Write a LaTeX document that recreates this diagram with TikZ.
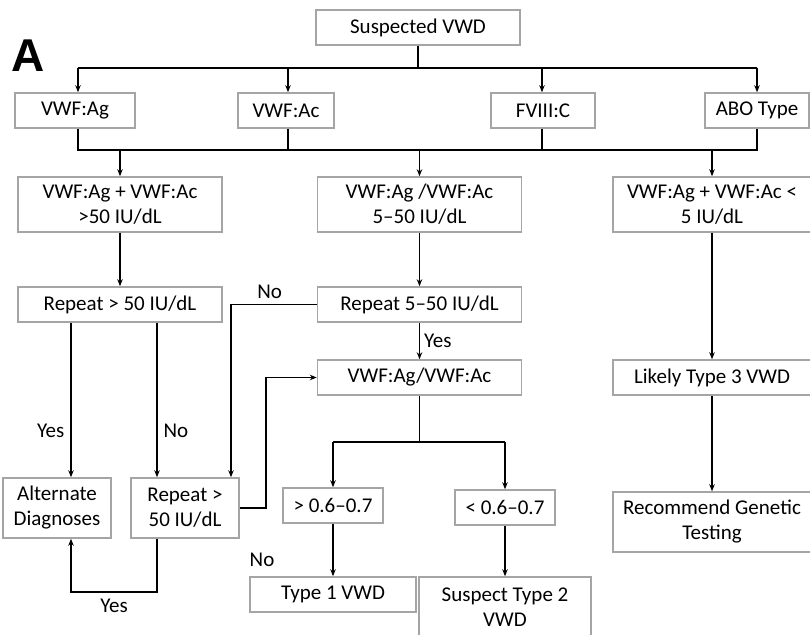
\documentclass[tikz,border=0pt]{standalone}
\usepackage{fontspec}
\setmainfont{Carlito}
\newfontfamily\arialbold{Liberation Sans}
\usetikzlibrary{arrows.meta}
\definecolor{boxgray}{RGB}{165,165,165}
\begin{document}
\begin{tikzpicture}[x=1pt,y=-1pt,
  box/.style={draw=boxgray,line width=1.5pt,fill=white,inner sep=0pt,align=center,
    font=\fontsize{21}{25}\selectfont},
  conn/.style={line width=1.2pt,black},
  arr/.style={conn,-{Stealth[length=7pt,width=5.5pt]}},
  lbl/.style={font=\fontsize{21}{25}\selectfont,inner sep=0pt}]
\useasboundingbox (0,0) rectangle (810,634);
\node[font=\fontsize{46}{46}\arialbold\bfseries\selectfont,inner sep=0pt] (A) at (28,55.5) {A};

\node[box,minimum width=204pt,minimum height=35pt] (sus) at (418,27.5) {Suspected VWD};
\node[box,minimum width=120pt,minimum height=35pt] (ag) at (75,110.5) {VWF:Ag};
\node[box,minimum width=96pt,minimum height=35pt] (ac) at (286,110.5) {VWF:Ac};
\node[box,minimum width=104pt,minimum height=35pt] (fv) at (543,110.5) {FVIII:C};
\node[box,minimum width=104pt,minimum height=35pt] (abo) at (757,110.5) {ABO Type};

\node[box,minimum width=204pt,minimum height=55pt] (r3a) at (120,204.5) {VWF:Ag + VWF:Ac\\>50 IU/dL};
\node[box,minimum width=204pt,minimum height=55pt] (r3b) at (419.5,204.5) {VWF:Ag /VWF:Ac\\5–50 IU/dL};
\node[box,minimum width=198pt,minimum height=55pt] (r3c) at (712,204.5) {VWF:Ag + VWF:Ac <\\5 IU/dL};

\node[box,minimum width=204pt,minimum height=35pt] (rep50) at (120,304.5) {Repeat > 50 IU/dL};
\node[box,minimum width=204pt,minimum height=35pt] (rep5) at (419.5,304.5) {Repeat 5–50 IU/dL};
\node[box,minimum width=204pt,minimum height=35pt] (ratio) at (419.5,377.5) {VWF:Ag/VWF:Ac};
\node[box,minimum width=198pt,minimum height=35pt] (t3) at (712,377.5) {Likely Type 3 VWD};
\node[box,minimum width=198pt,minimum height=60pt] (gen) at (712,522) {Recommend Genetic\\Testing};

\node[box,minimum width=108pt,minimum height=60pt] (alt) at (57,508) {Alternate\\Diagnoses};
\node[box,minimum width=108pt,minimum height=60pt] (rep2) at (185,508) {Repeat >\\50 IU/dL};
\node[box,minimum width=100pt,minimum height=35pt] (gt) at (333,505.5) {> 0.6–0.7};
\node[box,minimum width=100pt,minimum height=35pt] (lt) at (505,507.5) {< 0.6–0.7};
\node[box,minimum width=166pt,minimum height=35pt] (t1) at (333,594.5) {Type 1 VWD};
\node[box,minimum width=172pt,minimum height=60pt] (t2) at (505,607) {Suspect Type 2\\VWD};

% first bus
\coordinate (busA) at (418,68);
\draw[conn] (sus.south) -- (busA);
\draw[conn] ([xshift=3pt]ag.north |- busA) -- (abo.north |- busA);
\foreach \n/\s in {ag/3pt,ac/2pt,fv/-1pt,abo/0pt} \draw[arr] ([xshift=\s]\n.north |- busA) -- ([xshift=\s]\n.north);
% second bus
\coordinate (busB) at (419,150);
\draw[conn] ([xshift=3pt]ag.south) -- ([xshift=3pt]ag.south |- busB) -- (abo.south |- busB) -- (abo.south);
\draw[conn] ([xshift=2pt]ac.south) -- ([xshift=2pt]ac.south |- busB);
\draw[conn] ([xshift=-1pt]fv.south) -- ([xshift=-1pt]fv.south |- busB);
\foreach \n in {r3a,r3b,r3c} \draw[arr] (\n.north |- busB) -- (\n.north);

\draw[arr] (r3a.south) -- (rep50.north);
\draw[arr] (r3b.south) -- (rep5.north);
\draw[arr] (rep5.south) -- node[lbl,right=4pt] {Yes} (ratio.north);
\draw[arr] (r3c.south) -- (t3.north);
\draw[arr] (t3.south) -- (gen.north);

\coordinate (altin) at ([xshift=14pt]alt.north);
\coordinate (altout) at ([xshift=14pt]alt.south);
\coordinate (rep2a) at ([xshift=-28pt]rep2.north);
\coordinate (rep2b) at ([xshift=46pt]rep2.north);
\coordinate (rep2s) at ([xshift=-28pt]rep2.south);
\draw[arr] (altin |- rep50.south) -- node[lbl,pos=0.7,left=6pt] {Yes} (altin);
\draw[arr] (rep2a |- rep50.south) -- node[lbl,pos=0.7,right=6pt] {No} (rep2a);
\draw[arr] (rep5.west) -- node[lbl,above=5pt,pos=0.55] {No} (rep2b |- rep5.west) -- (rep2b);
\draw[arr] (rep2.east) -- (266,508) -- (266,377.5) -- (ratio.west);
\node[lbl] (no3) at (262,560) {No};
\draw[arr] (rep2s) -- (rep2s |- 0,592) -- node[lbl,below=6pt] {Yes} (altout |- 0,592) -- (altout);

\coordinate (busC) at (419.5,442);
\draw[conn] (ratio.south) -- (busC);
\draw[conn] (gt.north |- busC) -- (lt.north |- busC);
\draw[arr] (gt.north |- busC) -- (gt.north);
\draw[arr] (lt.north |- busC) -- (lt.north);
\draw[arr] (gt.south) -- (t1.north);
\draw[arr] (lt.south) -- (t2.north);
\end{tikzpicture}
\end{document}
